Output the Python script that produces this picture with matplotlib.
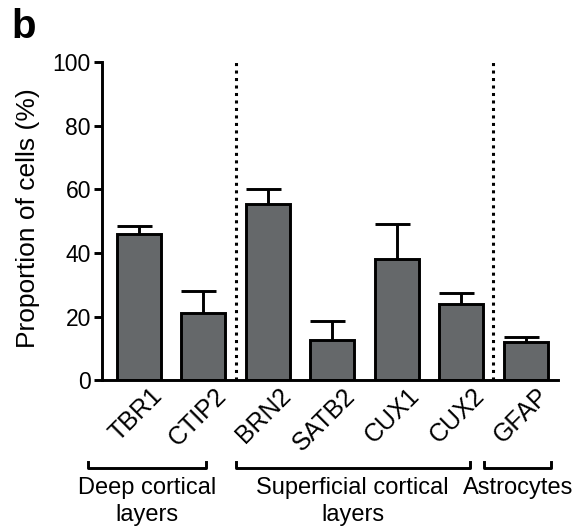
import numpy as np
import matplotlib.pyplot as plt
import matplotlib.transforms as mtransforms

plt.rcParams['font.family'] = ['Liberation Sans', 'DejaVu Sans']

markers = ["TBR1", "CTIP2", "BRN2", "SATB2", "CUX1", "CUX2", "GFAP"]
means = [46, 21, 55.5, 12.5, 38, 24, 12]
errors = [2.5, 7, 4.5, 6, 11, 3.5, 1.5]
groups = ["Deep cortical\nlayers", "Superficial cortical\nlayers", "Astrocytes"]
group_spans = [(-0.79, 1.04), (1.5, 5.13), (5.36, 6.4)]

fig = plt.figure(figsize=(5.83, 5.31), dpi=100)
ax = fig.add_axes([0.175, 0.284, 0.782, 0.599])

x = np.arange(len(markers))
bw = 0.68
ax.bar(x, means, width=bw, color='#65686a', edgecolor='black', linewidth=2.1, zorder=2)
tops = np.array(means) + np.array(errors)
# error bars: upper only, cap a bit off-centre like the original
ax.vlines(x, means, tops, color='black', linewidth=2.1, zorder=1)
ax.hlines(tops, x - bw / 2, x + 0.2, color='black', linewidth=2.1, zorder=1)

# dotted separators
for sep in [1.5, 5.5]:
    ax.plot([sep, sep], [0, 100], color='black', linestyle=(0, (1, 1.45)), linewidth=2.2)

ax.set_xlim(-0.57, 6.5)
ax.set_ylim(0, 100)
ax.set_yticks([0, 20, 40, 60, 80, 100])
ax.set_xticks(x)
ax.set_xticklabels(markers, rotation=45, ha='right', va='top', rotation_mode='anchor', fontsize=18)
ax.tick_params(axis='x', length=0, pad=4)
ax.tick_params(axis='y', labelsize=16.5, width=2.1, length=6, pad=2)
ax.set_ylabel('Proportion of cells (%)', fontsize=19)
ax.yaxis.set_label_coords(-0.135, 0.51)
for s in ['top', 'right']:
    ax.spines[s].set_visible(False)
for s in ['left', 'bottom']:
    ax.spines[s].set_linewidth(2.1)

shift = mtransforms.ScaledTranslation(11 / 100, 2 / 100, fig.dpi_scale_trans)
for lab in ax.get_xticklabels():
    lab.set_transform(lab.get_transform() + shift)

# group brackets
trans = ax.get_xaxis_transform()
for name, (a, b) in zip(groups, group_spans):
    ax.plot([a, a, b, b], [-0.258, -0.277, -0.277, -0.258], color='black',
            linewidth=2.1, transform=trans, clip_on=False)
    ax.text((a + b) / 2, -0.303, name, transform=trans, ha='center', va='top',
            fontsize=17, linespacing=1.3)

fig.text(0.02, 0.985, 'b', fontsize=29, fontweight='bold', va='top', ha='left')

fig.savefig('out.png', dpi=100)
